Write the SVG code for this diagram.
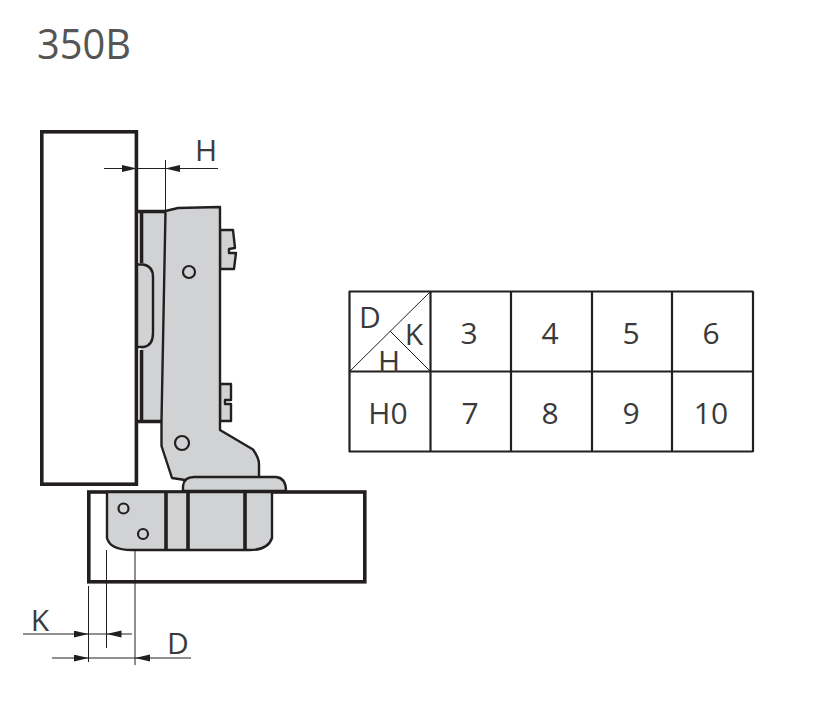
<svg xmlns="http://www.w3.org/2000/svg" width="814" height="721" viewBox="0 0 814 721">
<style>
.t{font-family:"Open Sans","Noto Sans","Liberation Sans",sans-serif;fill:#3a3a3a;font-size:30px}
.m{text-anchor:middle}
.g{fill:#d1d2d4;stroke:#231f20;stroke-width:2.4;stroke-linejoin:round}
.p{fill:none;stroke:#231f20;stroke-width:3.6}
.b{fill:none;stroke:#231f20;stroke-width:3.6}
.d{fill:none;stroke:#231f20;stroke-width:1}
.c{fill:#d1d2d4;stroke:#231f20;stroke-width:2.2}
.tb{fill:none;stroke:#231f20;stroke-width:2.2}
.ar{fill:#231f20;stroke:none}
</style>
<defs>
<marker id="a" markerUnits="userSpaceOnUse" markerWidth="16" markerHeight="8" refX="15" refY="3.5" orient="auto"><path class="ar" d="M0 0L15 3.5L0 7Z"/></marker>
</defs>
<rect width="814" height="721" fill="#fff"/>
<text id="title" x="37" y="59" textLength="94" lengthAdjust="spacingAndGlyphs" style="font-family:'Open Sans','Noto Sans',sans-serif;font-size:42px;fill:#555">350B</text>

<g id="door-panel"><rect class="p" x="41.8" y="131.8" width="94.6" height="352.4"/></g>
<g id="cabinet-panel"><rect class="p" x="88.8" y="492" width="276" height="89.8"/></g>

<g id="hinge">
<path d="M141 212H166L162 421H141Z" fill="#d1d2d4"/>
<path d="M137 211.500H166M137 421.500H162" class="b"/>
<path d="M141.500 211V263M141.500 350V421" class="b"/>
<path class="g" d="M137 264.500H143Q153 266 153 277V333Q153 346 143 347H137Z"/>
<path class="g" d="M220 230H233L235 248L229 249V253H236L234 269H220Z" stroke-width="2"/>
<path class="g" d="M220 384H231V400H225V404H231V421H220Z" stroke-width="2"/>
<circle class="g" cx="195.500" cy="477" r="8.500"/>
<path class="g" d="M165.500 211L178 208L220 207V430L253 449.500Q259 458 259 464V480H185L172 478L161.500 446V421Z"/>
<path class="g" d="M107 492V538Q110 550 132 550H250Q268 550 272 538V492Z" stroke-width="2"/>
<path class="g" d="M183 491V486Q184 477 194 477H276Q286 478 286 491Z"/>
<path d="M166 492V549M188 492V549M245 492V549" fill="none" stroke="#231f20" stroke-width="3.600"/>
<circle class="c" cx="123.500" cy="508.500" r="5"/>
<circle class="c" cx="143" cy="534" r="5"/>
<circle class="c" cx="189" cy="272" r="6"/>
<circle class="c" cx="182" cy="443" r="7"/>
</g>

<g id="connectors">
<path class="d" d="M104 168.500H137" marker-end="url(#a)"/>
<path class="d" d="M218 168.500H165" marker-end="url(#a)"/>
<path class="d" d="M137 168.500H165M165.500 160V211M88.500 586V662M106.500 550V648M135 550V665"/>
<path class="d" d="M23 634H88.500" marker-end="url(#a)"/>
<path class="d" d="M132 634H106.500" marker-end="url(#a)"/>
<path class="d" d="M88.500 634H106.500"/>
<path class="d" d="M52 658H88.500" marker-end="url(#a)"/>
<path class="d" d="M191 658H135" marker-end="url(#a)"/>
<path class="d" d="M88.500 658H135"/>
</g>
<g id="labels">
<text class="t m" x="206" y="161">H</text>
<text class="t m" x="40" y="631">K</text>
<text class="t m" x="178" y="654">D</text>
</g>

<g id="table">
<path class="tb" d="M349 291.500H753M349 371.500H753M349 451.500H753M349.500 291V452M430.500 291V452M511 291V452M592 291V452M672 291V452M753 291V452"/>
<path class="d" d="M350 371L430 292M390 331L430 371" stroke-width="1.200"/>
<text class="t m" x="370" y="328">D</text>
<text class="t m" x="414" y="345">K</text>
<text class="t m" x="389" y="372">H</text>
<text class="t m" x="469" y="344">3</text>
<text class="t m" x="550" y="344">4</text>
<text class="t m" x="631" y="344">5</text>
<text class="t m" x="711" y="344">6</text>
<text class="t m" x="388" y="424">H0</text>
<text class="t m" x="470" y="424">7</text>
<text class="t m" x="550" y="424">8</text>
<text class="t m" x="631" y="424">9</text>
<text class="t m" x="711" y="424">10</text>
</g>
</svg>
